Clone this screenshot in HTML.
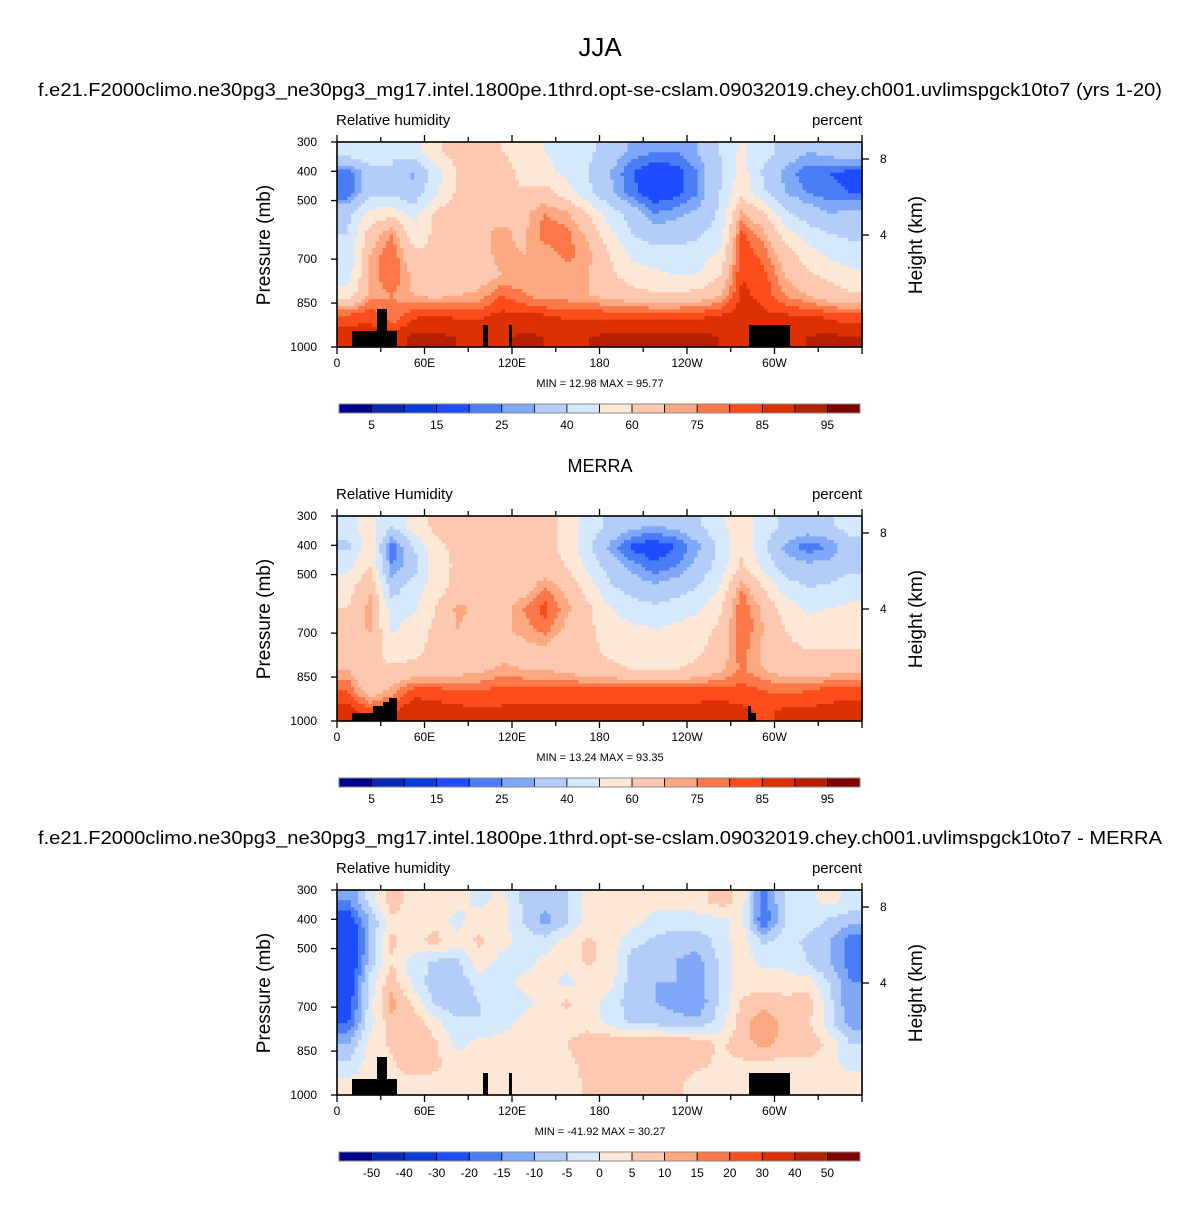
<!DOCTYPE html>
<html><head><meta charset="utf-8">
<style>
body{margin:0;background:#fff;}
svg text{font-family:"Liberation Sans",Arial,sans-serif;fill:#000;}
</style></head><body>
<svg id="root" width="1200" height="1202" viewBox="0 0 1200 1202" xmlns="http://www.w3.org/2000/svg">
<text x="600" y="56" text-anchor="middle" font-size="26">JJA</text>
<text x="38" y="96" font-size="18" textLength="1124" lengthAdjust="spacingAndGlyphs">f.e21.F2000climo.ne30pg3_ne30pg3_mg17.intel.1800pe.1thrd.opt-se-cslam.09032019.chey.ch001.uvlimspgck10to7 (yrs 1-20)</text>
<text x="600" y="472" text-anchor="middle" font-size="18">MERRA</text>
<text x="38" y="844" font-size="18" textLength="1124" lengthAdjust="spacingAndGlyphs">f.e21.F2000climo.ne30pg3_ne30pg3_mg17.intel.1800pe.1thrd.opt-se-cslam.09032019.chey.ch001.uvlimspgck10to7 - MERRA</text>
</svg>
<script>
// ---- data (rows: top 300mb -> bottom 1000mb; cols: 0..360 lon, 15 deg each) ----
const lonLabels = ["0","60E","120E","180","120W","60W"];
const presLabels = [300,400,500,700,850,1000];
const heightLabels = [8,4];
const levelsRH = [5,10,15,20,25,30,40,50,60,70,75,80,85,90,95];
const levelLabelsRH = ["5","15","25","40","60","75","85","95"];
const levelsDiff = [-50,-40,-30,-20,-15,-10,-5,0,5,10,15,20,30,40,50];
const levelLabelsDiff = ["-50","-40","-30","-20","-15","-10","-5","0","5","10","15","20","30","40","50"];
const minmax1 = ["12.98","95.77"];
const minmax2 = ["13.24","93.35"];
const minmax3 = ["-41.92","30.27"];
const rhModel = [
[45,50,40,45,58,65,62,60,55,50,48,42,35,28,25,25,30,40,52,45,35,30,32,38],
[20,35,40,28,45,60,65,68,55,52,48,40,30,20,15,17,25,38,55,38,28,22,20,18],
[20,38,38,33,48,62,68,68,62,65,55,42,32,22,15,18,25,40,58,42,30,25,22,20],
[38,52,58,45,62,67,70,67,68,75,72,60,45,35,25,28,32,42,72,62,42,35,30,32],
[40,65,75,55,62,65,68,72,68,78,77,68,52,40,35,35,38,45,82,72,55,45,40,38],
[42,70,80,62,60,65,67,72,70,72,77,72,60,48,45,45,45,52,84,78,65,55,48,45],
[45,72,80,68,60,62,65,70,72,70,72,70,62,55,52,50,50,60,85,82,70,62,58,52],
[55,72,75,70,68,70,72,80,76,72,72,70,67,64,62,62,64,70,86,84,75,70,65,62],
[82,84,76,84,86,84,84,87,87,86,84,84,84,84,84,84,84,86,88,86,86,86,84,82],
[88,88,88,91,91,90,88,89,91,90,89,90,91,91,91,91,91,90,88,88,88,90,91,90]];
const rhMerra = [
[45,55,40,55,62,62,62,62,60,62,58,45,38,32,30,32,38,48,55,45,38,35,38,45],
[38,58,20,40,58,62,62,65,62,62,58,42,28,18,15,20,28,42,58,42,28,22,25,35],
[48,60,25,35,55,62,62,64,64,64,60,48,35,28,22,25,33,45,62,48,35,32,33,38],
[55,70,35,45,55,64,65,65,65,75,68,55,42,35,32,35,40,50,75,60,45,40,42,45],
[60,72,45,48,60,72,68,65,75,82,72,62,50,45,42,45,48,58,80,68,55,48,50,52],
[60,72,48,55,62,70,65,68,72,78,68,62,55,52,50,52,55,62,80,70,60,55,55,58],
[62,65,55,58,62,65,60,65,68,68,62,62,58,56,55,56,58,65,78,68,62,60,60,60],
[70,60,62,62,64,66,68,72,70,70,67,64,62,60,60,60,62,68,76,70,66,65,66,68],
[80,64,72,82,82,80,80,82,82,82,82,82,82,82,82,82,82,82,82,80,78,80,82,82],
[88,82,84,90,88,87,86,86,86,86,86,86,86,86,86,86,87,88,86,84,86,86,87,88]];
const rhDiff = [
[-15,-3,8,2,4,2,-2,2,-6,-8,-6,2,2,2,2,2,3,8,3,-18,-4,-2,2,-2],
[-25,-10,4,2,3,-2,3,3,-5,-12,-6,2,2,2,-2,-2,-2,-2,2,-20,-4,-2,-6,-8],
[-30,-10,6,3,7,2,6,2,-2,-3,2,6,3,-3,-6,-8,-8,-3,3,-6,-3,-6,-10,-18],
[-30,-8,5,-2,-6,-6,3,-2,-3,2,2,6,3,-8,-10,-10,-12,-4,3,-2,-2,-5,-10,-18],
[-25,-3,8,-2,-8,-8,-3,-3,2,2,-2,2,2,-8,-10,-10,-12,-4,2,3,3,2,-5,-15],
[-25,-2,12,4,-6,-8,-5,-3,-2,2,6,2,-2,-8,-10,-12,-14,-4,6,8,6,8,-3,-15],
[-20,-2,8,8,2,-4,-5,-3,2,2,3,3,-2,-6,-6,-8,-8,-3,8,14,8,6,-3,-12],
[-10,2,6,10,6,-2,2,3,2,2,5,8,10,10,10,10,9,4,8,12,8,10,3,-5],
[-4,2,4,8,6,3,4,4,3,2,4,6,7,7,7,7,6,4,4,4,3,3,2,-2],
[2,3,3,3,3,3,3,3,3,3,3,6,6,6,6,6,3,3,3,2,2,3,3,3]];
const colors = ["#00008f","#0a28b4","#0a3cd8","#1e4cff","#4a7cf6","#80a8f8","#b4ccf8","#d6e8fc","#fde8d8","#fcc8b0","#fca880","#fc7848","#fc4c1c","#dc3000","#b42000","#800000"];

const NS="http://www.w3.org/2000/svg";
const root=document.getElementById('root');
const X0=337, X1=862, PH=205;
function mk(tag,attrs,parent){const e=document.createElementNS(NS,tag);for(const k in attrs)e.setAttribute(k,attrs[k]);(parent||root).appendChild(e);return e;}
function xScale(lon){return X0+(lon/360)*(X1-X0);}
function yScale(p,top){return top+((p-300)/700)*PH;}
function colorIdx(v,lv){let i=0;while(i<lv.length&&v>=lv[i])i++;return i;}
function sample(grid,fx,fy){
  const R=grid.length,C=grid[0].length;
  let gx=fx*C-0.5, gy=fy*R-0.5;
  gx=Math.max(0,Math.min(C-1,gx)); gy=Math.max(0,Math.min(R-1,gy));
  const x0=Math.floor(gx),y0=Math.floor(gy),x1=Math.min(C-1,x0+1),y1=Math.min(R-1,y0+1);
  const tx=gx-x0,ty=gy-y0;
  return (grid[y0][x0]*(1-tx)+grid[y0][x1]*tx)*(1-ty)+(grid[y1][x0]*(1-tx)+grid[y1][x1]*tx)*ty;
}
function panel(top,grid,lv,lvLabels,mm,topoType,idx){
  const g=mk('g',{});
  
  
  const NX=150,NY=60,cw=(X1-X0)/NX,ch=PH/NY;
  for(let j=0;j<NY;j++){
    let start=0,cur=colorIdx(sample(grid,0.5/NX,(j+0.5)/NY),lv);
    for(let i=1;i<=NX;i++){
      const c=i<NX?colorIdx(sample(grid,(i+0.5)/NX,(j+0.5)/NY),lv):-1;
      if(c!==cur){
        const r=mk('rect',{x:(X0+start*cw).toFixed(2),y:(top+j*ch).toFixed(2),width:((i-start)*cw+0.6).toFixed(2),height:(ch+0.6).toFixed(2),fill:colors[cur]},g);
        
        
        start=i;cur=c;
      }
    }
  }
  const topo = topoType===1 ? [[352,331,45,16],[377,309,10,38],[483,325,5,22],[509,325,3,22],[749,325,41,22]]
                            : [[352,339,15,8],[367,339,6,8],[373,332,10,15],[383,328,6,19],[389,324,8,23],[748,339,8,8],[748,332,3,15]];
  topo.forEach(t=>{const r=mk('rect',{x:t[0],y:top-142+t[1],width:t[2],height:t[3],fill:'#000'},g);
    
    });
  const fr=mk('rect',{x:X0,y:top,width:X1-X0,height:PH,fill:'none',stroke:'#000','stroke-width':1.6});
  
  
  for(let k=0;k<=12;k++){const lon=k*30,x=xScale(lon),L=(k%2===0)?7:5;
    mk('line',{x1:x,x2:x,y1:top,y2:top-L,stroke:'#000','stroke-width':1.3});
    mk('line',{x1:x,x2:x,y1:top+PH,y2:top+PH+L,stroke:'#000','stroke-width':1.3});}
  lonLabels.forEach((l,k)=>{const t=mk('text',{x:xScale(k*60),y:top+PH+20,'text-anchor':'middle','font-size':12});t.textContent=l;
    
    });
  presLabels.forEach(p=>{const y=yScale(p,top);mk('line',{x1:X0,x2:X0-6,y1:y,y2:y,stroke:'#000','stroke-width':1.3});
    const t=mk('text',{x:X0-20,y:y+4,'text-anchor':'end','font-size':12});t.textContent=p;
    
    });
  heightLabels.forEach(h=>{const y=top+(h===8?17:93);mk('line',{x1:X1,x2:X1+7,y1:y,y2:y,stroke:'#000','stroke-width':1.3});
    const t=mk('text',{x:X1+18,y:y+4,'font-size':12});t.textContent=h;
    
    });
  let t=mk('text',{x:336,y:top-17,'font-size':15});t.textContent=idx===2?'Relative Humidity':'Relative humidity';
  
  t=mk('text',{x:862,y:top-17,'font-size':15,'text-anchor':'end'});t.textContent='percent';
  
  t=mk('text',{x:270,y:top+103,'font-size':19,'text-anchor':'middle',transform:`rotate(-90 270 ${top+103})`});t.textContent='Pressure (mb)';
  
  t=mk('text',{x:922,y:top+103,'font-size':19,'text-anchor':'middle',transform:`rotate(-90 922 ${top+103})`});t.textContent='Height (km)';
  
  t=mk('text',{x:600,y:top+245,'font-size':11,'text-anchor':'middle','xml:space':'preserve'});t.textContent='MIN =  '+mm[0]+'  MAX =  '+mm[1];
  
  const cb=mk('g',{});
  
  
  const cx0=339,cx1=860,cy=top+262,cwid=(cx1-cx0)/colors.length;
  colors.forEach((c,k)=>{mk('rect',{x:cx0+k*cwid,y:cy,width:cwid,height:9,fill:c,stroke:'#000','stroke-width':0.8},cb);});
  mk('rect',{x:cx0,y:cy,width:cx1-cx0,height:9,fill:'none',stroke:'#888','stroke-width':1},cb);
  const step=lvLabels.length===lv.length?1:2;
  lvLabels.forEach((l,k)=>{const b=1+k*step;const tt=mk('text',{x:cx0+b*cwid,y:cy+25,'font-size':12,'text-anchor':'middle'},cb);tt.textContent=l;
    
    });
}
panel(142,rhModel,levelsRH,levelLabelsRH,minmax1,1,1);
panel(516,rhMerra,levelsRH,levelLabelsRH,minmax2,2,2);
panel(890,rhDiff,levelsDiff,levelLabelsDiff,minmax3,1,3);
</script>
</body></html>
